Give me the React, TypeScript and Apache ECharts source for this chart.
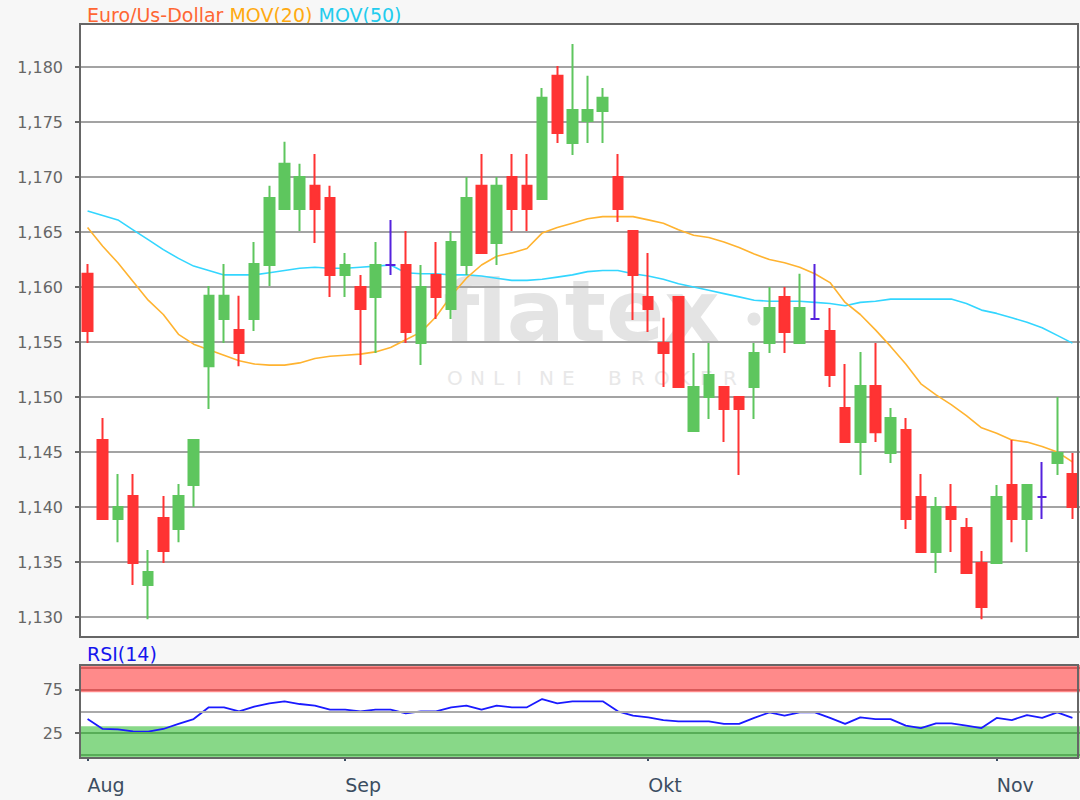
import React, { useEffect, useRef } from 'react';
import * as echarts from 'echarts';

// Trading days shown (Aug 9 – Nov 8, 2018)
const days = [
  '2018-08-09', '2018-08-10', '2018-08-13', '2018-08-14', '2018-08-15', '2018-08-16', '2018-08-17',
  '2018-08-20', '2018-08-21', '2018-08-22', '2018-08-23', '2018-08-24', '2018-08-27', '2018-08-28',
  '2018-08-29', '2018-08-30', '2018-08-31',
  '2018-09-03', '2018-09-04', '2018-09-05', '2018-09-06', '2018-09-07', '2018-09-10', '2018-09-11',
  '2018-09-12', '2018-09-13', '2018-09-14', '2018-09-17', '2018-09-18', '2018-09-19', '2018-09-20',
  '2018-09-21', '2018-09-24', '2018-09-25', '2018-09-26', '2018-09-27', '2018-09-28',
  '2018-10-01', '2018-10-02', '2018-10-03', '2018-10-04', '2018-10-05', '2018-10-08', '2018-10-09',
  '2018-10-10', '2018-10-11', '2018-10-12', '2018-10-15', '2018-10-16', '2018-10-17', '2018-10-18',
  '2018-10-19', '2018-10-22', '2018-10-23', '2018-10-24', '2018-10-25', '2018-10-26', '2018-10-29',
  '2018-10-30', '2018-10-31',
  '2018-11-01', '2018-11-02', '2018-11-05', '2018-11-06', '2018-11-07', '2018-11-08',
];

const monthLabels: Record<string, string> = {
  '2018-08-09': 'Aug',
  '2018-09-03': 'Sep',
  '2018-10-01': 'Okt',
  '2018-11-01': 'Nov',
};

const openP = [
  1.1612, 1.1461, 1.1389, 1.1410, 1.1329, 1.1390, 1.1380, 1.1420, 1.1528, 1.1571,
  1.1561, 1.1571, 1.1620, 1.1671, 1.1671, 1.1692, 1.1681, 1.1611, 1.1600, 1.1591,
  1.1620, 1.1620, 1.1549, 1.1611, 1.1580, 1.1620, 1.1692, 1.1640, 1.1700, 1.1692,
  1.1680, 1.1792, 1.1731, 1.1751, 1.1760, 1.1700, 1.1651, 1.1591, 1.1549, 1.1591,
  1.1469, 1.1500, 1.1509, 1.1500, 1.1509, 1.1549, 1.1591, 1.1549, 1.1571, 1.1560,
  1.1490, 1.1459, 1.1510, 1.1449, 1.1470, 1.1409, 1.1359, 1.1400, 1.1381, 1.1349,
  1.1349, 1.1420, 1.1389, 1.1409, 1.1440, 1.1430,
];
const closeP = [
  1.1560, 1.1389, 1.1400, 1.1349, 1.1341, 1.1360, 1.1410, 1.1461, 1.1592, 1.1592,
  1.1540, 1.1621, 1.1681, 1.1712, 1.1700, 1.1671, 1.1611, 1.1620, 1.1580, 1.1620,
  1.1620, 1.1559, 1.1600, 1.1591, 1.1641, 1.1681, 1.1631, 1.1692, 1.1671, 1.1671,
  1.1772, 1.1740, 1.1761, 1.1761, 1.1772, 1.1671, 1.1611, 1.1580, 1.1540, 1.1509,
  1.1509, 1.1520, 1.1489, 1.1489, 1.1540, 1.1581, 1.1559, 1.1581, 1.1571, 1.1520,
  1.1459, 1.1510, 1.1468, 1.1481, 1.1389, 1.1359, 1.1400, 1.1389, 1.1340, 1.1309,
  1.1409, 1.1389, 1.1420, 1.1409, 1.1449, 1.1400,
];
const lowP = [
  1.1549, 1.1389, 1.1368, 1.1329, 1.1298, 1.1349, 1.1368, 1.1400, 1.1489, 1.1549,
  1.1528, 1.1560, 1.1601, 1.1671, 1.1651, 1.1640, 1.1591, 1.1591, 1.1529, 1.1540,
  1.1611, 1.1549, 1.1529, 1.1571, 1.1571, 1.1611, 1.1631, 1.1620, 1.1651, 1.1651,
  1.1680, 1.1731, 1.1720, 1.1731, 1.1731, 1.1659, 1.1570, 1.1559, 1.1509, 1.1509,
  1.1469, 1.1480, 1.1459, 1.1429, 1.1480, 1.1540, 1.1540, 1.1549, 1.1571, 1.1509,
  1.1459, 1.1429, 1.1459, 1.1440, 1.1380, 1.1359, 1.1340, 1.1359, 1.1340, 1.1298,
  1.1349, 1.1368, 1.1359, 1.1389, 1.1429, 1.1389,
];
const highP = [
  1.1621, 1.1481, 1.1430, 1.1430, 1.1361, 1.1410, 1.1421, 1.1461, 1.1601, 1.1621,
  1.1592, 1.1641, 1.1692, 1.1732, 1.1712, 1.1721, 1.1692, 1.1631, 1.1611, 1.1641,
  1.1661, 1.1651, 1.1620, 1.1641, 1.1651, 1.1700, 1.1721, 1.1700, 1.1721, 1.1721,
  1.1781, 1.1801, 1.1821, 1.1792, 1.1781, 1.1721, 1.1651, 1.1631, 1.1572, 1.1591,
  1.1540, 1.1549, 1.1509, 1.1500, 1.1549, 1.1600, 1.1600, 1.1612, 1.1621, 1.1581,
  1.1530, 1.1541, 1.1549, 1.1490, 1.1481, 1.1430, 1.1409, 1.1421, 1.1390, 1.1360,
  1.1420, 1.1461, 1.1420, 1.1441, 1.1500, 1.1449,
];

const mov20 = [
  1.1654, 1.1637, 1.1622, 1.1605, 1.1588, 1.1575, 1.1557, 1.1548, 1.1543, 1.1538,
  1.1533, 1.1530, 1.1529, 1.1529, 1.1531, 1.1535, 1.1537, 1.1538, 1.1539, 1.1541,
  1.1545, 1.1552, 1.1559, 1.1573, 1.1592, 1.1608, 1.1620, 1.1628, 1.1631, 1.1635,
  1.1649, 1.1654, 1.1658, 1.1662, 1.1664, 1.1664, 1.1664, 1.1661, 1.1658, 1.1652,
  1.1647, 1.1645, 1.1641, 1.1636, 1.1630, 1.1625, 1.1622, 1.1618, 1.1612, 1.1604,
  1.1586, 1.1575, 1.1561, 1.1546, 1.1530, 1.1512, 1.1502, 1.1493, 1.1483, 1.1472,
  1.1467, 1.1461, 1.1459, 1.1455, 1.1450, 1.1441,
];
const mov50 = [
  1.1669, 1.1665, 1.1661, 1.1652, 1.1643, 1.1634, 1.1626, 1.1619, 1.1615, 1.1611,
  1.1611, 1.1611, 1.1613, 1.1615, 1.1617, 1.1618, 1.1617, 1.1617, 1.1618, 1.1619,
  1.1620, 1.1613, 1.1612, 1.1612, 1.1611, 1.1611, 1.1610, 1.1608, 1.1606, 1.1606,
  1.1607, 1.1609, 1.1611, 1.1614, 1.1615, 1.1615, 1.1612, 1.1610, 1.1607, 1.1603,
  1.1600, 1.1597, 1.1594, 1.1591, 1.1588, 1.1587, 1.1587, 1.1587, 1.1586, 1.1585,
  1.1583, 1.1586, 1.1587, 1.1589, 1.1589, 1.1589, 1.1589, 1.1589, 1.1585, 1.1579,
  1.1576, 1.1572, 1.1568, 1.1563, 1.1556, 1.1549,
];
const rsi14 = [
  41.3, 30.0, 29.4, 27.2, 26.9, 29.9, 35.7, 41.3, 54.8, 54.8,
  50.2, 55.6, 59.4, 61.7, 58.6, 56.7, 52.1, 52.1, 50.2, 52.1,
  52.1, 47.9, 50.2, 50.2, 54.8, 56.7, 52.1, 56.7, 54.8, 54.8,
  64.3, 59.4, 61.7, 61.7, 61.7, 50.2, 45.2, 43.3, 40.2, 38.7,
  38.7, 38.7, 35.7, 35.7, 42.6, 49.0, 45.2, 49.0, 49.0, 42.6,
  35.7, 43.3, 41.3, 41.3, 33.8, 31.0, 36.4, 36.4, 33.8, 31.0,
  42.6, 40.2, 45.9, 42.6, 49.0, 42.6,
];

const priceMin = 1.13;
const priceMax = 1.18;
const priceStep = 0.005;
const rsiLabelValues = [25, 75];
const rsiLines = [100, 75, 50, 25, 0];

const RED = '#ff3333';
const GREEN = '#5ec65e';
const DOJI = '#5522dd';
const ORANGE = '#ffb330';
const CYAN = '#33d6ff';
const FONT = 'DejaVu Sans';

export default function App() {
  const ref = useRef<HTMLDivElement>(null);

  useEffect(() => {
    if (!ref.current) return;
    const chart = echarts.init(ref.current, null, { renderer: 'svg' });

    const candles = days.map((_, i) => {
      const v = [openP[i], closeP[i], lowP[i], highP[i]];
      if (openP[i] === closeP[i]) {
        return {
          value: v,
          itemStyle: {
            color: DOJI, color0: DOJI, borderColor: DOJI, borderColor0: DOJI, borderColorDoji: DOJI,
          },
        };
      }
      return v;
    });

    const showMonth = (_i: number, v: string) => !!monthLabels[v];
    const lineColorFor = (v: number) => (v >= 75 ? '#d95a5a' : v === 50 ? '#aaaaaa' : '#58ad58');

    const watermarkLetters = 'ONLINE BROKER'.split('').map((ch, k) => ({
      type: 'text',
      z: -5,
      style: {
        text: ch, x: 447 + k * 23, y: 378, fill: '#e8e8e8',
        fontSize: 20, fontFamily: FONT, verticalAlign: 'middle', align: 'left',
      },
    }));

    chart.setOption({
      animation: false,
      backgroundColor: '#f7f7f7',
      textStyle: { fontFamily: FONT },
      title: [
        {
          left: 82, top: 0,
          text: '{a|Euro/Us-Dollar} {b|MOV(20)} {c|MOV(50)}',
          textStyle: {
            fontSize: 19, fontWeight: 'normal', fontFamily: FONT,
            rich: {
              a: { color: '#ff6633', fontSize: 19, fontFamily: FONT },
              b: { color: '#ffaa11', fontSize: 19, fontFamily: FONT },
              c: { color: '#22ccee', fontSize: 19, fontFamily: FONT },
            },
          },
        },
        {
          left: 82, top: 639, text: 'RSI(14)',
          textStyle: { fontSize: 19, fontWeight: 'normal', fontFamily: FONT, color: '#1515ee' },
        },
      ],
      grid: [
        { left: 80, width: 1000, top: 67, height: 550 },
        { left: 80, width: 1000, top: 665, height: 93 },
      ],
      xAxis: [
        {
          type: 'category', data: days, gridIndex: 0, boundaryGap: true,
          axisLine: { show: false }, axisTick: { show: false }, axisLabel: { show: false },
          splitLine: { show: false },
        },
        {
          type: 'category', data: days, gridIndex: 1, boundaryGap: true,
          axisLine: { show: false },
          axisTick: {
            show: true, interval: showMonth, alignWithLabel: true, length: 6,
            lineStyle: { color: '#3b4d61', width: 2 },
          },
          axisLabel: {
            interval: showMonth, formatter: (v: string) => monthLabels[v] || '',
            align: 'left', color: '#3b4d61', fontSize: 19, margin: 17, fontFamily: FONT,
          },
          splitLine: { show: false },
        },
      ],
      yAxis: [
        {
          type: 'value', gridIndex: 0, min: priceMin, max: priceMax, interval: priceStep,
          axisLine: { show: false },
          axisTick: { show: true, length: 5, lineStyle: { color: '#666666', width: 2 } },
          axisLabel: {
            formatter: (v: number) => v.toFixed(3).replace('.', ','),
            color: '#666666', fontSize: 16, margin: 17, fontFamily: FONT,
          },
          splitLine: { show: true, lineStyle: { color: '#a3a3a3', width: 2 } },
        },
        {
          type: 'value', gridIndex: 1, min: -3.45, max: 103.45,
          axisLine: { show: false },
          splitLine: { show: false },
          axisTick: {
            show: true, customValues: rsiLabelValues, length: 5,
            lineStyle: { color: '#666666', width: 2 },
          },
          axisLabel: {
            customValues: rsiLabelValues, color: '#666666', fontSize: 16, margin: 17, fontFamily: FONT,
          },
        },
      ],
      graphic: [
        { type: 'rect', z: -10, shape: { x: 80, y: 24, width: 998, height: 613 }, style: { fill: '#ffffff' } },
        { type: 'rect', z: -10, shape: { x: 80, y: 665, width: 998, height: 93 }, style: { fill: '#ffffff' } },
        {
          type: 'text', z: -5,
          style: {
            text: 'flatex', x: 443, y: 311, fill: '#e4e4e4',
            fontSize: 86, fontWeight: 'bold', fontFamily: FONT, verticalAlign: 'middle', align: 'left',
          },
        },
        { type: 'circle', z: -5, shape: { cx: 754, cy: 319, r: 6.5 }, style: { fill: '#e4e4e4' } },
        ...watermarkLetters,
        {
          type: 'rect', z: 50, silent: true,
          shape: { x: 80, y: 24, width: 998, height: 613 },
          style: { fill: 'none', stroke: '#666666', lineWidth: 2 },
        },
        {
          type: 'rect', z: 50, silent: true,
          shape: { x: 80, y: 665, width: 998, height: 93 },
          style: { fill: 'none', stroke: '#666666', lineWidth: 2 },
        },
      ],
      series: [
        {
          type: 'line', name: 'MOV(50)', xAxisIndex: 0, yAxisIndex: 0, data: mov50,
          symbol: 'none', lineStyle: { color: CYAN, width: 1.6 }, z: 3, silent: true,
        },
        {
          type: 'line', name: 'MOV(20)', xAxisIndex: 0, yAxisIndex: 0, data: mov20,
          symbol: 'none', lineStyle: { color: ORANGE, width: 1.6 }, z: 3, silent: true,
        },
        {
          type: 'candlestick', name: 'Euro/Us-Dollar', xAxisIndex: 0, yAxisIndex: 0,
          data: candles, barWidth: 10, clip: false, z: 5,
          itemStyle: {
            color: GREEN, color0: RED, borderColor: GREEN, borderColor0: RED,
            borderColorDoji: DOJI, borderWidth: 2,
          },
        },
        {
          type: 'line', name: 'RSI bands', xAxisIndex: 1, yAxisIndex: 1, data: rsi14,
          symbol: 'none', lineStyle: { width: 0, opacity: 0 }, z: 1, silent: true,
          markArea: {
            silent: true,
            data: [
              [{ yAxis: 72, itemStyle: { color: '#ff8a8a', opacity: 1 } }, { yAxis: 103.45 }],
              [{ yAxis: -3.45, itemStyle: { color: '#88d888', opacity: 1 } }, { yAxis: 33 }],
            ],
          },
          markLine: {
            silent: true, symbol: ['none', 'none'], label: { show: false },
            data: rsiLines.map((v) => ({
              yAxis: v, lineStyle: { color: lineColorFor(v), width: 2, type: 'solid', opacity: 1 },
            })),
          },
        },
        {
          type: 'line', name: 'RSI(14)', xAxisIndex: 1, yAxisIndex: 1, data: rsi14,
          symbol: 'none', lineStyle: { color: '#1a1aff', width: 1.8 }, z: 4, silent: true,
        },
      ],
    });

    return () => chart.dispose();
  }, []);

  return (
    <div
      ref={ref}
      style={{ position: 'fixed', left: 0, top: 0, width: 1080, height: 800 }}
    />
  );
}
